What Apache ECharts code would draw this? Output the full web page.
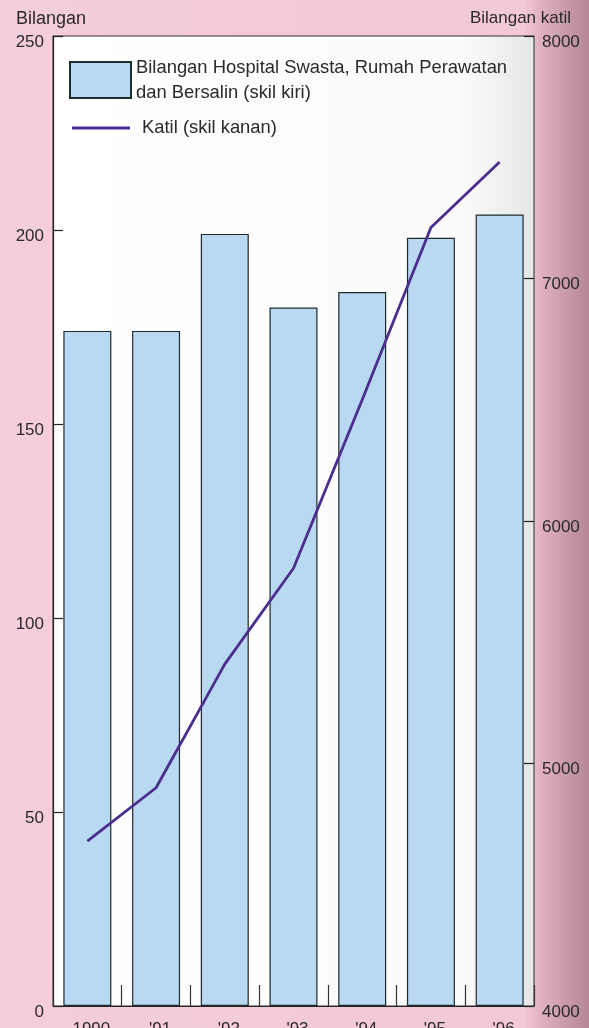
<!DOCTYPE html>
<html>
<head>
<meta charset="utf-8">
<script src="https://cdn.jsdelivr.net/npm/echarts@6/dist/echarts.min.js"></script>
<style>
  html, body { margin: 0; padding: 0; }
  body {
    width: 589px; height: 1028px; overflow: hidden;
    background: linear-gradient(to right, #f5cddc 0%, #f3c8d8 89%, #e0afc2 92%, #c99aac 96%, #b48698 100%);
  }
  #chart { width: 589px; height: 1028px; }
</style>
</head>
<body>
<div id="chart"></div>
<script>
const years = ['1990', "'91", "'92", "'93", "'94", "'95", "'96"];
const hospitals = [174, 174, 199, 180, 184, 198, 204];
const beds = [4680, 4900, 5410, 5805, 6500, 7210, 7480];
const leftAxisRange = { min: 0, max: 250, interval: 50 };
const rightAxisRange = { min: 4000, max: 8000, interval: 1000 };
const barName = 'Bilangan Hospital Swasta, Rumah Perawatan dan Bersalin (skil kiri)';
const lineName = 'Katil (skil kanan)';

const FONT = '"Liberation Sans", Arial, sans-serif';
const TXT = '#2a2a2a';

const chart = echarts.init(document.getElementById('chart'));
chart.setOption({
  animation: false,
  backgroundColor: 'transparent',
  textStyle: { fontFamily: FONT },
  title: [
    { text: 'Bilangan', left: 11, top: 5, textStyle: { fontSize: 18, fontWeight: 'normal', color: TXT, fontFamily: FONT } },
    { text: 'Bilangan katil', right: 13, top: 5, textStyle: { fontSize: 17, fontWeight: 'normal', color: TXT, fontFamily: FONT } }
  ],
  legend: [
    {
      data: [{ name: barName, icon: 'rect' }], left: 64, top: 50, itemWidth: 61, itemHeight: 36,
      formatter: () => 'Bilangan Hospital Swasta, Rumah Perawatan\ndan Bersalin (skil kiri)',
      textStyle: { fontSize: 18.4, lineHeight: 25, color: TXT, fontFamily: FONT },
      selectedMode: false
    },
    {
      data: [{ name: lineName, icon: 'rect' }], left: 67, top: 114, itemWidth: 58, itemHeight: 2.8,
      textStyle: { fontSize: 18.4, color: TXT, fontFamily: FONT, padding: [0, 0, 0, 7] },
      selectedMode: false
    }
  ],
  grid: {
    left: 53, right: 55, top: 36, bottom: 22,
    show: true, backgroundColor: {
      type: 'linear', x: 0, y: 0, x2: 1, y2: 0,
      colorStops: [{ offset: 0, color: '#ffffff' }, { offset: 0.85, color: '#fbfbfb' }, { offset: 1, color: '#e6e6e6' }]
    },
    borderColor: '#333', borderWidth: 1,
    outerBoundsMode: 'none', containLabel: false
  },
  xAxis: {
    type: 'category', data: years, boundaryGap: true,
    axisLine: { show: true, lineStyle: { color: '#222', width: 1.2 } },
    axisTick: { show: true, inside: true, length: 21, lineStyle: { color: '#333', width: 1.2 } },
    axisLabel: { fontSize: 17, color: TXT, margin: 15, padding: [0, 0, 0, 8], fontFamily: FONT },
    splitLine: { show: false }
  },
  yAxis: [
    {
      type: 'value', position: 'left', ...leftAxisRange,
      axisLine: { show: true, lineStyle: { color: '#222', width: 1.2 } },
      axisTick: { show: true, inside: true, length: 10, lineStyle: { color: '#222', width: 1.2 } },
      axisLabel: { fontSize: 17, color: TXT, margin: 9, verticalAlign: 'top', lineHeight: 12, fontFamily: FONT },
      splitLine: { show: false }
    },
    {
      type: 'value', position: 'right', ...rightAxisRange,
      axisLine: { show: true, lineStyle: { color: '#777', width: 1 } },
      axisTick: { show: true, inside: true, length: 10, lineStyle: { color: '#222', width: 1.2 } },
      axisLabel: { fontSize: 17, color: TXT, margin: 8, verticalAlign: 'top', lineHeight: 12, fontFamily: FONT,
        formatter: v => String(v) },
      splitLine: { show: false }
    }
  ],
  series: [
    {
      name: barName, type: 'bar', yAxisIndex: 0, data: hospitals,
      barWidth: 48,
      itemStyle: { color: '#b9d8f1', borderColor: '#1f2a2a', borderWidth: 1.2 }
    },
    {
      name: lineName, type: 'line', yAxisIndex: 1, data: beds,
      symbol: 'none',
      lineStyle: { color: '#4b2e8e', width: 2.8 },
      itemStyle: { color: '#4b2e8e' }
    }
  ]
});
</script>
</body>
</html>
